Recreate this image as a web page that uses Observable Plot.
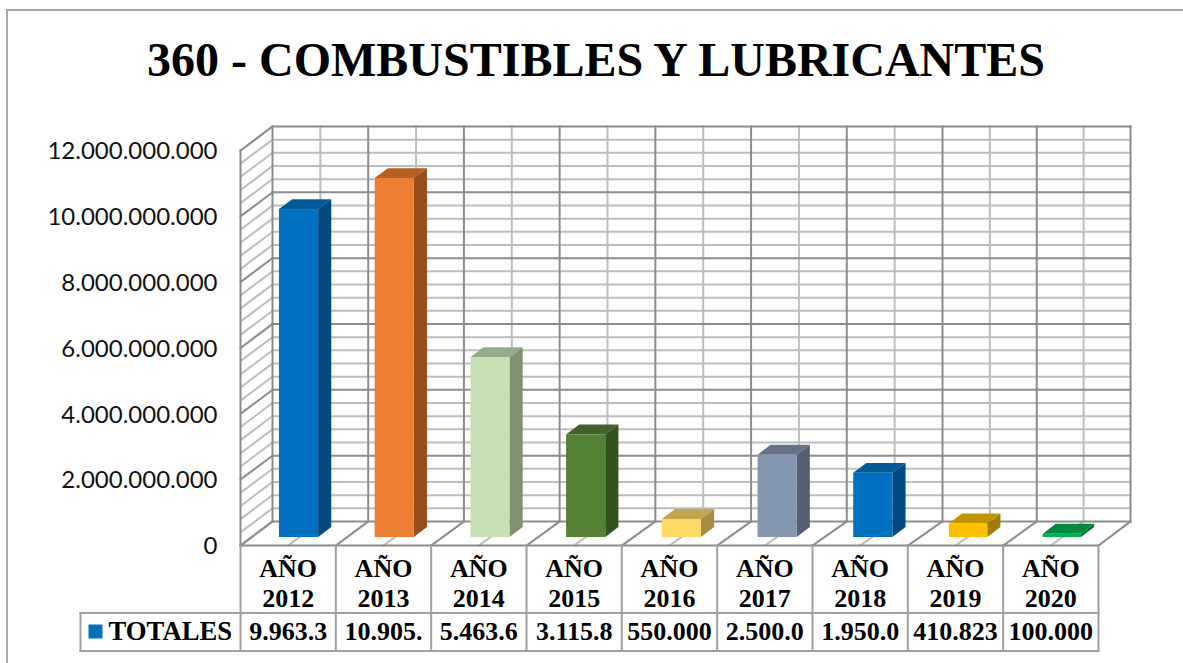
<!DOCTYPE html>
<html lang="es">
<head>
<meta charset="utf-8">
<title>360 - COMBUSTIBLES Y LUBRICANTES</title>
<script src="https://cdn.jsdelivr.net/npm/d3@7"></script>
<script src="https://cdn.jsdelivr.net/npm/@observablehq/plot@0.6"></script>
<style>
  html, body { margin: 0; padding: 0; background: #fff; overflow: hidden; }
  #page { position: relative; width: 1183px; height: 663px; overflow: hidden; }
  #frame { position: absolute; left: 6px; top: 9px; right: -4px; bottom: -4px; border-left: 2px solid #a9a9a9; border-top: 2px solid #a9a9a9; }
  #title { position: relative; margin: 0; padding-left: 9px; height: 110px; line-height: 120px; text-align: center; font-family: "Liberation Serif", serif; font-weight: 700; font-size: 48px; color: #000; white-space: nowrap; }
  #chart { position: relative; }
  #chart svg { display: block; background: transparent; }
</style>
</head>
<body>
<div id="page">
  <div id="frame"></div>
  <h1 id="title">360 - COMBUSTIBLES Y LUBRICANTES</h1>
  <div id="chart"></div>
</div>
<script>
const years = ["2012", "2013", "2014", "2015", "2016", "2017", "2018", "2019", "2020"];
const values = [9963300000, 10905000000, 5463600000, 3115800000, 550000000, 2500000000, 1950000000, 410823000, 100000000];
const valueLabels = ["9.963.3", "10.905.", "5.463.6", "3.115.8", "550.000", "2.500.0", "1.950.0", "410.823", "100.000"];
const frontColors = ["#0070c0", "#ed7d31", "#c5e0b4", "#548235", "#ffd966", "#8497b0", "#0070c0", "#ffc000", "#00b050"];
const topColors = ["#005a9a", "#b55f25", "#96ab89", "#406329", "#c3a54e", "#657386", "#005a9a", "#c39300", "#008a3d"];
const sideColors = ["#004a80", "#964f1c", "#7f9172", "#35521f", "#a68d42", "#545f70", "#004a80", "#a37b00", "#007232"];
const yTicks = [0, 2e9, 4e9, 6e9, 8e9, 10e9, 12e9];
const gridTicks = d3.range(0, 31).map(k => k * 4e8);
const seriesName = "TOTALES";

// Oblique projection: a point is (category position, value, depth 0..1).
const catPx = 858 / 9;
const depthX = 32 / catPx;
const depthY = 24 * 12e9 / 395;
// The rear planes of the original run very slightly wider than the front edge.
const skew = c => Math.min(0.38 * c, (9 - c) * 1.6) / catPx;
const px = (c, v, d) => c + d * depthX + (d > 0 ? skew(c) : 0);
const py = (c, v, d) => v + d * depthY;
const below = p => -p * 12e9 / 395;      // distance under the zero line, in value units
const barInset = 0.2955, barWidth = 0.409, barD0 = 1 / 3, barD1 = 0.745;

function seg(a, b) {
  return { x1: px(...a), y1: py(...a), x2: px(...b), y2: py(...b) };
}
const linkMark = (rows, stroke, strokeWidth = 2) =>
  Plot.link(rows, { x1: "x1", y1: "y1", x2: "x2", y2: "y2", stroke, strokeWidth, strokeLinecap: "square" });

const isMajor = v => v % 2e9 === 0;
const cats = d3.range(0, years.length + 1);
const nCat = years.length;

const minorGrid = [
  ...gridTicks.filter(v => !isMajor(v)).flatMap(v => [seg([0, v, 1], [nCat, v, 1]), seg([0, v, 0], [0, v, 1])]),
  ...years.map((_, c) => seg([c + 0.5, 0, 1], [c + 0.5, 12e9, 1])),
  ...years.map((_, c) => seg([c + 0.5, 0, 0], [c + 0.5, 0, 1]))
];
const majorGrid = [
  ...yTicks.flatMap(v => [seg([0, v, 1], [nCat, v, 1]), seg([0, v, 0], [0, v, 1])]),
  ...cats.map(c => seg([c, 0, 1], [c, 12e9, 1])),
  ...cats.map(c => seg([c, 0, 0], [c, 0, 1])),
  seg([0, 0, 0], [nCat, 0, 0]),
  seg([0, 0, 0], [0, 12e9, 0])
];

const barMarks = values.flatMap((v, i) => {
  const a = i + barInset, b = a + barWidth;
  const side = [
    { x: px(b, 0, barD0), y1: py(b, 0, barD0), y2: py(b, v, barD0) },
    { x: px(b, 0, barD1), y1: py(b, 0, barD1), y2: py(b, v, barD1) }
  ];
  const top = [
    { x: px(a, v, barD0), y1: py(a, v, barD0), y2: py(a, v, barD0) },
    { x: px(a, v, barD1), y1: py(a, v, barD0), y2: py(a, v, barD1) },
    { x: px(b, v, barD0), y1: py(a, v, barD0), y2: py(a, v, barD1) },
    { x: px(b, v, barD1), y1: py(a, v, barD1), y2: py(a, v, barD1) }
  ];
  return [
    Plot.areaY(side, { x: "x", y1: "y1", y2: "y2", fill: sideColors[i] }),
    Plot.areaY(top, { x: "x", y1: "y1", y2: "y2", fill: topColors[i] }),
    Plot.rect([{ x1: px(a, 0, barD0), x2: px(b, 0, barD0), y1: py(a, 0, barD0), y2: py(a, v, barD0) }],
      { x1: "x1", x2: "x2", y1: "y1", y2: "y2", fill: frontColors[i] })
  ];
});

// Data table under the axis
const rowHeaderLeft = -160 / catPx;
const rowTop = below(67.5), rowBottom = below(105.5);
const tableLines = [
  ...cats.map(c => ({ x1: c, y1: 0, x2: c, y2: rowBottom })),
  { x1: rowHeaderLeft, y1: rowTop, x2: nCat, y2: rowTop },
  { x1: rowHeaderLeft, y1: rowBottom, x2: nCat, y2: rowBottom },
  { x1: rowHeaderLeft, y1: rowTop, x2: rowHeaderLeft, y2: rowBottom }
];
const serif = { fontFamily: "Liberation Serif", fontWeight: "bold", fontSize: 26, fill: "#000" };
const euro = d3.formatLocale({ decimal: ",", thousands: ".", grouping: [3], currency: ["", ""] }).format(",");

const chart = Plot.plot({
  width: 1183,
  height: 553,
  marginLeft: 217, marginRight: 0, marginTop: 0, marginBottom: 0,
  style: { fontFamily: "Lato", background: "transparent", overflow: "visible" },
  x: { type: "linear", domain: [0, 9], range: [240, 1098], axis: null },
  y: { type: "linear", domain: [0, 12e9], range: [435, 40] },
  marks: [
    linkMark(minorGrid, "#bdbdbd"),
    linkMark(majorGrid, "#8c8c8c"),
    ...barMarks,
    linkMark(tableLines, "#a0a0a0"),
    Plot.axisY({
      anchor: "left", ticks: yTicks, tickSize: 0, tickPadding: 0, label: null,
      tickFormat: euro, fontSize: 24, fill: "#111", dy: 1
    }),
    Plot.text(years, {
      x: (d, i) => i + 0.5, y: below(37), text: d => "AÑO\n" + d,
      lineHeight: 1.16, ...serif
    }),
    Plot.text(valueLabels, {
      x: (d, i) => i + 0.5, y: below(86), text: d => d, ...serif
    }),
    Plot.dot([seriesName], {
      x: rowHeaderLeft + 15 / catPx, y: below(86), symbol: "square", r: 7.9, fill: frontColors[0]
    }),
    Plot.text([seriesName], {
      x: rowHeaderLeft + 28 / catPx, y: below(86), text: d => d, textAnchor: "start", ...serif, fontSize: 26.7
    })
  ]
});
document.getElementById("chart").append(chart);
</script>
</body>
</html>
